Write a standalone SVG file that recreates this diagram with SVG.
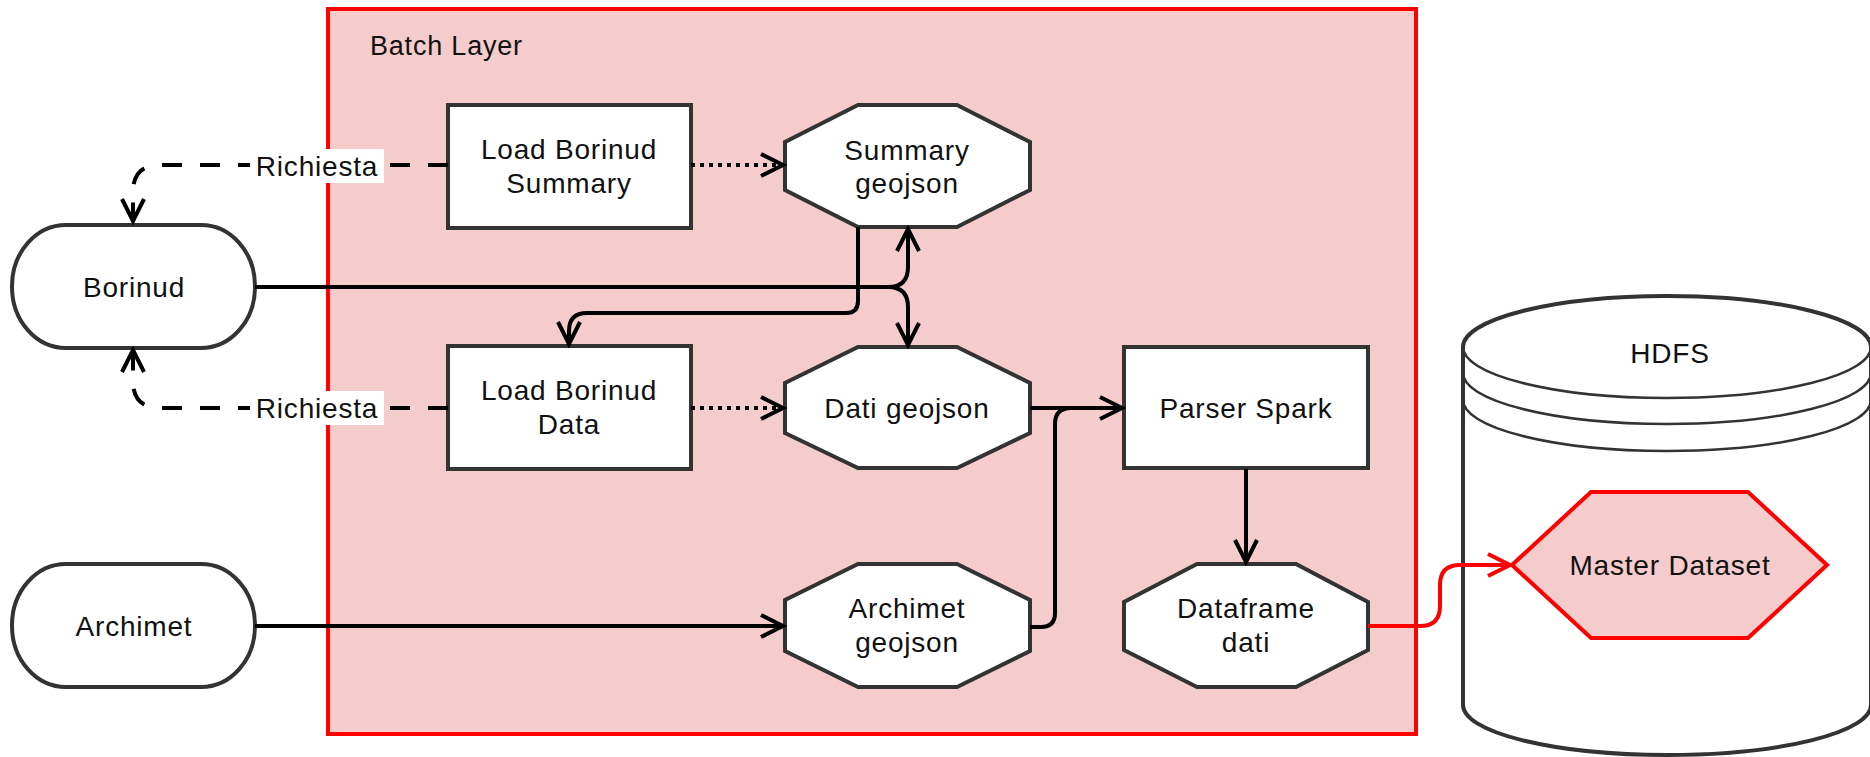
<svg xmlns="http://www.w3.org/2000/svg" width="1870" height="757" viewBox="0 0 1870 757">
<style>
.node{fill:#ffffff;stroke:#333333;stroke-width:4}
.red{fill:#f4cccc;stroke:#ff0000;stroke-width:4}
.t{font-family:"Liberation Sans",Arial,sans-serif;font-size:28px;letter-spacing:0.8px;fill:#111111;text-anchor:middle}
.c{fill:none;stroke:#000000;stroke-width:4}
.dash{stroke-dasharray:20 18}
.dot{stroke-dasharray:4 5}
.inner{fill:none;stroke:#333333;stroke-width:2.5}
</style>
<defs>
<marker id="arr" markerUnits="userSpaceOnUse" markerWidth="30" markerHeight="30" viewBox="-26 -15 30 30" refX="0" refY="0" orient="auto" overflow="visible">
<path d="M-22,-11 L0,0 L-22,11" fill="none" stroke="#000000" stroke-width="4"/>
</marker>
<marker id="arrR" markerUnits="userSpaceOnUse" markerWidth="30" markerHeight="30" viewBox="-26 -15 30 30" refX="0" refY="0" orient="auto" overflow="visible">
<path d="M-22,-11 L0,0 L-22,11" fill="none" stroke="#ff0000" stroke-width="4"/>
</marker>
</defs>
<rect width="1870" height="757" fill="#ffffff"/>

<g id="batch-layer">
<rect class="red" x="328" y="9" width="1088" height="725"/>
<text class="t" x="370" y="55" style="text-anchor:start;font-size:27px">Batch Layer</text>
</g>

<g id="hdfs">
<path class="node" d="M1463,347 A204,51 0 0 1 1871,347 L1871,705 A204,50 0 0 1 1463,705 Z"/>
<path class="inner" d="M1463,347 A204,51 0 0 0 1871,347 M1463,373 A204,51 0 0 0 1871,373 M1463,400 A204,51 0 0 0 1871,400"/>
<text class="t" x="1670" y="363">HDFS</text>
</g>

<g id="master-dataset">
<polygon class="red" points="1512,565 1591,492 1748,492 1827,565 1748,638 1591,638"/>
<text class="t" x="1670" y="575">Master Dataset</text>
</g>

<g id="borinud">
<rect class="node" x="12" y="225" width="243" height="123" rx="54" ry="61"/>
<text class="t" x="134" y="297">Borinud</text>
</g>

<g id="archimet">
<rect class="node" x="12" y="564" width="243" height="123" rx="54" ry="61"/>
<text class="t" x="134" y="636">Archimet</text>
</g>

<g id="load-borinud-summary">
<rect class="node" x="448" y="105" width="243" height="123"/>
<text class="t" x="569" y="159">Load Borinud</text>
<text class="t" x="569" y="193">Summary</text>
</g>

<g id="load-borinud-data">
<rect class="node" x="448" y="346" width="243" height="123"/>
<text class="t" x="569" y="400">Load Borinud</text>
<text class="t" x="569" y="434">Data</text>
</g>

<g id="summary-geojson">
<polygon class="node" points="858,105 957,105 1030,142 1030,190 957,227 858,227 785,190 785,142"/>
<text class="t" x="907" y="160">Summary</text>
<text class="t" x="907" y="193">geojson</text>
</g>

<g id="dati-geojson">
<polygon class="node" points="858,347 957,347 1030,383 1030,433 957,468 858,468 785,433 785,383"/>
<text class="t" x="907" y="418">Dati geojson</text>
</g>

<g id="archimet-geojson">
<polygon class="node" points="858,564 957,564 1030,600 1030,651 957,687 858,687 785,651 785,600"/>
<text class="t" x="907" y="618">Archimet</text>
<text class="t" x="907" y="652">geojson</text>
</g>

<g id="parser-spark">
<rect class="node" x="1124" y="347" width="244" height="121"/>
<text class="t" x="1246" y="418">Parser Spark</text>
</g>

<g id="dataframe-dati">
<polygon class="node" points="1197,564 1296,564 1368,602 1368,650 1296,687 1197,687 1124,650 1124,602"/>
<text class="t" x="1246" y="618">Dataframe</text>
<text class="t" x="1246" y="652">dati</text>
</g>

<g id="connectors">
<path class="c dash" d="M448,165 L160,165 Q133,165 133,192 L133,221" marker-end="url(#arr)"/>
<rect x="250" y="149" width="134" height="34" fill="#ffffff"/>
<text class="t" x="317" y="176">Richiesta</text>
<path class="c dash" d="M448,408 L160,408 Q133,408 133,381 L133,350" marker-end="url(#arr)"/>
<rect x="250" y="391" width="134" height="34" fill="#ffffff"/>
<text class="t" x="317" y="418">Richiesta</text>
<path class="c dot" d="M691,165 L783,165" marker-end="url(#arr)"/>
<path class="c dot" d="M691,408 L783,408" marker-end="url(#arr)"/>
<path class="c" d="M255,287 L888,287 Q908,287 908,267 L908,229" marker-end="url(#arr)"/>
<path class="c" d="M255,287 L888,287 Q908,287 908,307 L908,345" marker-end="url(#arr)"/>
<path class="c" d="M858,227 L858,301 Q858,313 846,313 L587,313 Q569,313 569,331 L569,344" marker-end="url(#arr)"/>
<path class="c" d="M1030,408 L1122,408" marker-end="url(#arr)"/>
<path class="c" d="M1030,627 L1041,627 Q1055,627 1055,613 L1055,424 Q1055,408 1071,408 L1122,408"/>
<path class="c" d="M255,626 L783,626" marker-end="url(#arr)"/>
<path class="c" d="M1246,469 L1246,562" marker-end="url(#arr)"/>
<path class="c" style="stroke:#ff0000" d="M1368,626 L1420,626 Q1440,626 1440,606 L1440,585 Q1440,565 1460,565 L1510,565" marker-end="url(#arrR)"/>
</g>
</svg>
